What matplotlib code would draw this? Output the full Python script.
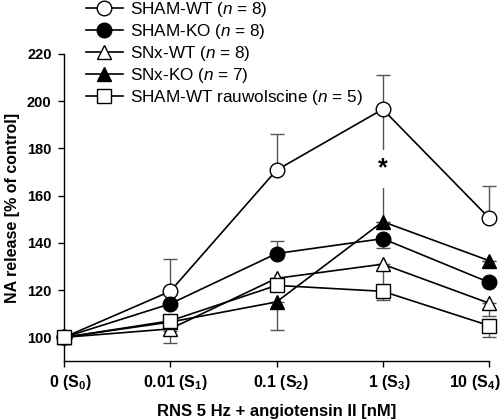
import matplotlib
matplotlib.use("Agg")
import matplotlib.pyplot as plt
import matplotlib.transforms as mtransforms
import numpy as np

plt.rcParams["font.family"] = ["Liberation Sans", "DejaVu Sans"]
plt.rcParams["mathtext.fontset"] = "custom"
plt.rcParams["mathtext.it"] = "Liberation Sans:italic"
plt.rcParams["mathtext.bf"] = "Liberation Sans:bold"
plt.rcParams["mathtext.rm"] = "Liberation Sans"

# ---------------------------------------------------------
# DATA
# ---------------------------------------------------------
x_labels = [r"0 (S$_\mathbf{0}$)", r"0.01 (S$_\mathbf{1}$)", r"0.1 (S$_\mathbf{2}$)",
            r"1 (S$_\mathbf{3}$)", r"10 (S$_\mathbf{4}$)"]

series_names = [r"SHAM-WT ($\it{n}$ = 8)", r"SHAM-KO ($\it{n}$ = 8)",
                r"SNx-WT ($\it{n}$ = 8)", r"SNx-KO ($\it{n}$ = 7)",
                r"SHAM-WT rauwolscine ($\it{n}$ = 5)"]

sham_wt = [100, 119.5, 170.8, 196.6, 150.6]
sham_ko = [100, 114.2, 135.5, 141.8, 123.3]
snx_wt = [100, 103.6, 125.0, 131.0, 114.5]
snx_ko = [100, 106.5, 115.0, 149.0, 132.5]
sham_wt_rau = [100, 107.0, 122.0, 119.5, 105.0]

# one-sided error bars (lower, upper)
sham_wt_err = ([0, 0, 0, 0, 0], [0, 13.5, 15.5, 14.5, 13.5])
sham_ko_err = ([0, 0, 0, 3.8, 0], [0, 0, 5.2, 0, 0])
snx_wt_err = ([0, 5.8, 0, 12.0, 5.5], [0, 0, 0, 0, 0])
snx_ko_err = ([0, 0, 12.0, 0, 0], [0, 0, 0, 0, 0])
sham_wt_rau_err = ([0, 4.5, 0, 3.5, 5.0], [0, 0, 0, 0, 0])

# significance: SHAM-WT vs SNx-KO at 1 nM
sig_index = 3

# ---------------------------------------------------------
# PLOT
# ---------------------------------------------------------
fig = plt.figure(figsize=(5.02, 4.2), dpi=100)
ax = fig.add_axes([0.1275, 0.1405, 0.8466, 0.731])

x = np.arange(len(x_labels))
all_vals = [sham_wt, sham_ko, snx_wt, snx_ko, sham_wt_rau]
all_errs = [sham_wt_err, sham_ko_err, snx_wt_err, snx_ko_err, sham_wt_rau_err]
markers = ["o", "o", "^", "^", "s"]
faces = ["white", "black", "white", "black", "white"]
sizes = [10.5, 10.5, 10.5, 10.5, 9.5]

# error bars underneath
for vals, err in zip(all_vals, all_errs):
    ax.errorbar(x, vals, yerr=np.array(err), fmt="none", ecolor="#555555",
                elinewidth=1.0, capsize=5, capthick=1.0, zorder=1, clip_on=False)

# significance line with asterisk
ax.plot([x[sig_index], x[sig_index]], [sham_wt[sig_index], snx_ko[sig_index]],
        color="#555555", lw=1.0, zorder=1)
ax.text(x[sig_index], 171.5, "*", ha="center", va="center", fontsize=18,
        fontweight="bold", zorder=1.5,
        bbox=dict(facecolor="white", edgecolor="none", pad=5))

handles = []
for vals, m, fc, ms, name in zip(all_vals, markers, faces, sizes, series_names):
    ax.plot(x, vals, color="black", lw=1.2, zorder=2, clip_on=False)
    ax.plot(x, vals, marker=m, markersize=ms, markerfacecolor=fc,
            markeredgecolor="black", markeredgewidth=1.0, linestyle="none",
            zorder=3, clip_on=False)
    handles.append(ax.plot([], [], color="black", lw=1.2, marker=m, markersize=ms,
                           markerfacecolor=fc, markeredgecolor="black",
                           markeredgewidth=1.0)[0])

ax.set_xlim(0, 4)
ax.set_ylim(90, 220)
ax.set_xticks(x)
ax.set_xticklabels(x_labels, fontsize=11.5, fontweight="bold")
ax.set_yticks([100, 120, 140, 160, 180, 200, 220])
ax.set_yticklabels(["100", "120", "140", "160", "180", "200", "220"],
                   fontsize=10.5, fontweight="bold")
ax.tick_params(direction="out", length=4, width=1, pad=5)
ax.tick_params(axis="x", pad=5)

# nudge x tick labels like the reference (last one pulled in from the edge)
shifts = [6, 5, 5, 7, -14]
for lab, dx in zip(ax.get_xticklabels(), shifts):
    lab.set_transform(lab.get_transform() +
                      mtransforms.ScaledTranslation(dx / 100, 0, fig.dpi_scale_trans))

ax.spines["top"].set_visible(False)
ax.spines["right"].set_visible(False)
ax.spines["left"].set_linewidth(1.0)
ax.spines["bottom"].set_linewidth(1.0)

ax.set_xlabel("RNS 5 Hz + angiotensin II [nM]", fontsize=12, fontweight="bold",
              labelpad=8)
ax.set_ylabel("NA release [% of control]", fontsize=11.5, fontweight="bold",
              labelpad=5)

fig.legend(handles, series_names, loc="upper left", bbox_to_anchor=(0.157, 1.016),
           frameon=False, fontsize=12.3, handlelength=2.2, handletextpad=0.4,
           labelspacing=0.18, borderaxespad=0)

fig.savefig("out.png", dpi=100)
plt.close(fig)
